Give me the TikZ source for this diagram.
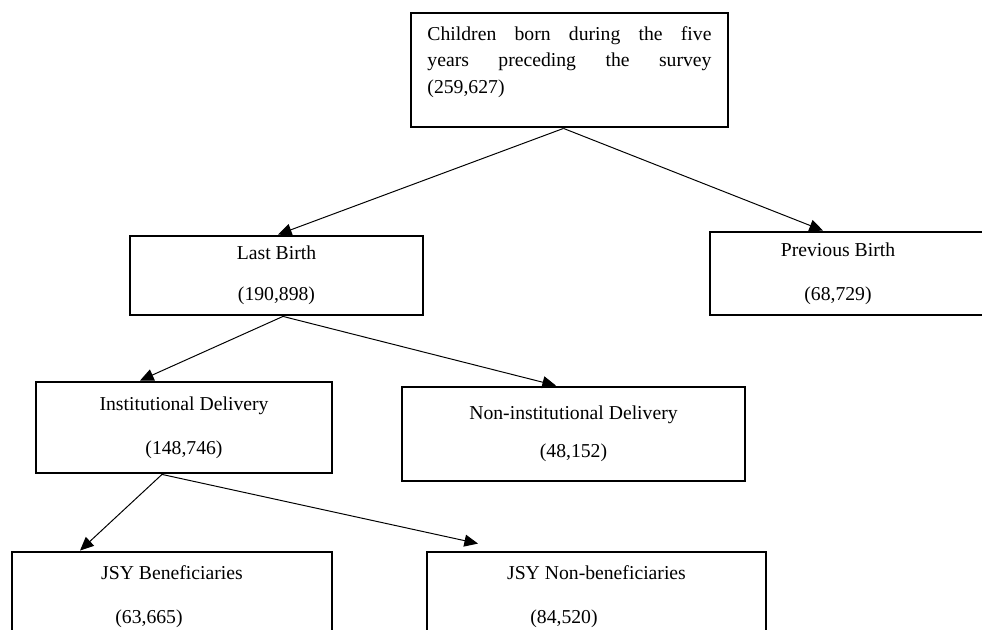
\documentclass[tikz,border=0pt]{standalone}
\usepackage{fontspec}
\setmainfont{Liberation Serif}
\usetikzlibrary{arrows.meta,calc}

\begin{document}
\begin{tikzpicture}[
          x=0.025cm, y=-0.025cm,
          font=\fontsize{14}{17}\selectfont,
          count box/.style={draw, rectangle, line width=2pt, inner sep=0pt, align=center},
          link/.style={line width=0.7pt, -{Triangle[length=0.34cm,width=0.3cm]}},
      ]

      % Khung trang
      \clip (0,0) rectangle (982,630);

      % Hộp gốc
      \node[count box, minimum width=7.925cm, minimum height=2.85cm] (children) at (569.5,70)
          {\parbox[c][2.85cm][t]{7.1cm}{\fontsize{14}{18.8}\selectfont\vspace*{0.34cm}Children born during the five\linebreak years preceding the survey\linebreak (259,627)}};

      % Hàng thứ hai
      \node[count box, minimum width=7.325cm, minimum height=1.975cm] (last) at (276.5,275.5)
          {Last Birth\\[12pt](190,898)};
      \node[count box, minimum width=6.95cm, minimum height=2.075cm] (previous) at (849,273.5)
          {Previous Birth\hspace*{0.55cm}\\[14pt](68,729)\hspace*{0.55cm}};

      % Hàng thứ ba
      \node[count box, minimum width=7.4cm, minimum height=2.275cm] (institutional) at (184,427.5)
          {Institutional Delivery\\[14pt](148,746)};
      \node[count box, minimum width=8.575cm, minimum height=2.35cm] (noninstitutional) at (573.5,434)
          {Non-institutional Delivery\\[10pt](48,152)};

      % Hàng cuối
      \node[count box, minimum width=8cm, minimum height=2.25cm] (beneficiaries) at (172,597)
          {JSY Beneficiaries\\[14.5pt](63,665)\hspace*{1.15cm}};
      \node[count box, minimum width=8.475cm, minimum height=2.25cm] (nonbeneficiaries) at (596.5,597)
          {JSY Non-beneficiaries\\[14.5pt](84,520)\hspace*{1.625cm}};

      % Mũi tên
      \foreach \from/\dx/\to/\ex/\ey in {children/-6/last/1.5/0, children/-6/previous/-26/0,
          last/6.5/institutional/-44/0, last/6.5/noninstitutional/-17.5/0,
          institutional/-22/beneficiaries/-92/0, institutional/-22/nonbeneficiaries/-118.5/-7} {
          \draw[link] ($(\from.south)+(\dx,0)$) -- ($(\to.north)+(\ex,\ey)$);
      }

      \end{tikzpicture}
\end{document}
